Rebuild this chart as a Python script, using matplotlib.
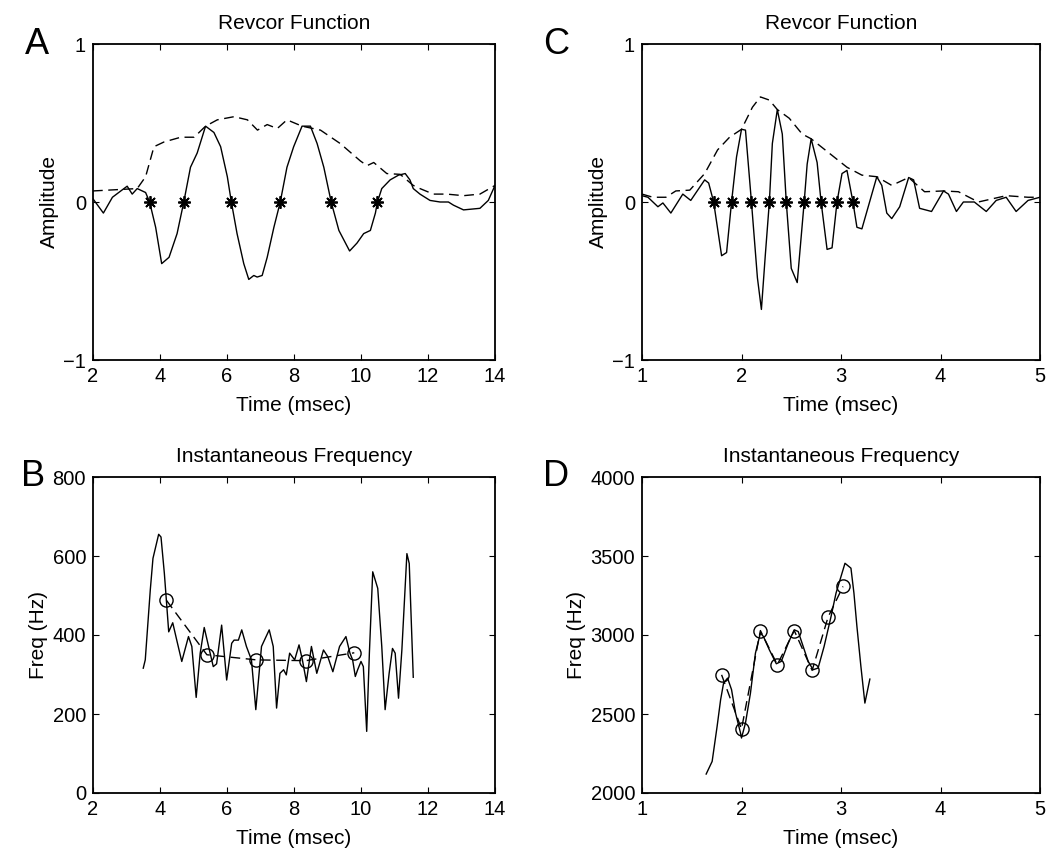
import numpy as np
import matplotlib
matplotlib.use('Agg')
import matplotlib.pyplot as plt

plt.rcParams['font.family'] = ['Liberation Sans', 'DejaVu Sans']

# painel A - revcor (ms, amplitude)
a_t = [2.0, 2.31, 2.58, 2.83, 3.02, 3.17, 3.32, 3.57, 3.69, 3.87, 4.05, 4.27, 4.51, 4.71, 4.91,
       5.11, 5.36, 5.61, 5.81, 6.01, 6.13, 6.30, 6.50, 6.65, 6.80, 6.90, 7.05, 7.20, 7.40, 7.59,
       7.79, 7.99, 8.24, 8.49, 8.69, 8.89, 9.11, 9.34, 9.66, 9.88, 10.08, 10.28, 10.43, 10.49,
       10.62, 10.87, 11.12, 11.32, 11.46, 11.56, 11.76, 12.06, 12.36, 12.61, 12.76, 13.06, 13.55,
       13.80, 14.0]
a_amp = [0.02, -0.07, 0.03, 0.07, 0.10, 0.05, 0.085, 0.06, 0.0, -0.16, -0.39, -0.35, -0.20, 0.0, 0.22,
         0.31, 0.48, 0.44, 0.35, 0.16, 0.0, -0.20, -0.39, -0.49, -0.465, -0.475, -0.465, -0.35, -0.16, 0.0,
         0.22, 0.35, 0.48, 0.48, 0.37, 0.22, 0.0, -0.18, -0.31, -0.26, -0.20, -0.18, -0.07, 0.0,
         0.085, 0.14, 0.17, 0.18, 0.14, 0.085, 0.05, 0.01, 0.0, 0.0, -0.02, -0.05, -0.04,
         0.01, 0.105]
a_env_t = [2.0, 3.32, 3.57, 3.82, 4.12, 4.62, 5.02, 5.36, 5.71, 6.21, 6.61, 6.91, 7.20, 7.50, 7.79,
           8.24, 8.79, 9.38, 9.98, 10.18, 10.38, 10.77, 11.17, 11.56, 11.76, 12.16, 12.56, 13.06,
           13.55, 14.0]
a_env = [0.07, 0.085, 0.16, 0.35, 0.38, 0.41, 0.41, 0.48, 0.52, 0.54, 0.52, 0.455, 0.49, 0.465, 0.52,
         0.48, 0.455, 0.37, 0.26, 0.23, 0.25, 0.18, 0.175, 0.105, 0.085, 0.05, 0.05, 0.04,
         0.05, 0.105]
a_zeros = [3.69, 4.71, 6.13, 7.59, 9.11, 10.49]

# painel B - frequencia instantanea (ms, Hz)
b_t = [3.50, 3.56, 3.71, 3.79, 3.96, 4.03, 4.13, 4.19, 4.26, 4.38, 4.50, 4.65, 4.85, 4.95, 5.08,
       5.20, 5.32, 5.45, 5.59, 5.69, 5.84, 5.99, 6.14, 6.21, 6.34, 6.44, 6.58, 6.73, 6.86, 7.03,
       7.26, 7.38, 7.48, 7.58, 7.69, 7.77, 7.87, 8.02, 8.15, 8.25, 8.37, 8.52, 8.68, 8.88, 9.01,
       9.16, 9.36, 9.55, 9.67, 9.75, 9.83, 9.90, 10.00, 10.07, 10.17, 10.25, 10.35, 10.50, 10.62,
       10.72, 10.84, 10.94, 11.02, 11.12, 11.22, 11.37, 11.44, 11.56]
b_freq = [316, 337, 514, 594, 655, 648, 556, 488, 408, 431, 387, 333, 396, 371, 242,
          354, 419, 371, 320, 327, 425, 286, 379, 387, 387, 413, 371, 337, 211, 371,
          413, 371, 215, 303, 312, 299, 354, 337, 375, 337, 282, 371, 303, 362, 345,
          307, 371, 396, 354, 337, 295, 312, 333, 320, 156, 354, 560, 518, 371,
          211, 303, 366, 354, 240, 362, 606, 581, 293]
b_circ_t = [4.19, 5.40, 6.88, 8.35, 9.80]
b_circ_f = [488, 350, 337, 335, 355]

# painel C - revcor
c_t = [1.0, 1.06, 1.16, 1.21, 1.29, 1.41, 1.49, 1.63, 1.67, 1.72, 1.80, 1.85, 1.90, 1.95, 2.00,
       2.04, 2.10, 2.16, 2.20, 2.24, 2.28, 2.31, 2.36, 2.41, 2.45, 2.50, 2.56, 2.63, 2.66, 2.70,
       2.76, 2.80, 2.86, 2.91, 2.96, 3.01, 3.06, 3.12, 3.16, 3.21, 3.36, 3.41, 3.46, 3.51, 3.59,
       3.68, 3.73, 3.79, 3.91, 4.03, 4.08, 4.16, 4.23, 4.34, 4.46, 4.56, 4.66, 4.76, 4.88, 5.0]
c_amp = [0.04, 0.03, -0.03, -0.006, -0.07, 0.05, 0.01, 0.14, 0.12, 0.0, -0.34, -0.32, 0.0, 0.285, 0.46,
         0.455, 0.0, -0.48, -0.68, -0.33, 0.0, 0.37, 0.585, 0.43, 0.0, -0.42, -0.51, 0.0, 0.24, 0.40,
         0.25, 0.0, -0.30, -0.29, 0.0, 0.18, 0.20, 0.0, -0.16, -0.17, 0.16, 0.105, -0.07, -0.105, -0.03,
         0.155, 0.14, -0.04, -0.06, 0.07, 0.05, -0.06, 0.0, 0.0, -0.06, 0.01, 0.03, -0.06, 0.01, 0.03]
c_env_t = [1.0, 1.11, 1.24, 1.34, 1.48, 1.63, 1.76, 1.88, 2.00, 2.11, 2.19, 2.28, 2.36, 2.48, 2.61,
           2.70, 2.88, 3.06, 3.21, 3.36, 3.51, 3.68, 3.84, 4.03, 4.18, 4.38, 4.66, 4.88, 5.0]
c_env = [0.05, 0.03, 0.03, 0.07, 0.075, 0.18, 0.33, 0.41, 0.46, 0.60, 0.665, 0.645, 0.585, 0.53, 0.43,
         0.40, 0.31, 0.22, 0.17, 0.16, 0.105, 0.155, 0.065, 0.07, 0.065, 0.0, 0.04, 0.03, 0.03]
c_zeros = [1.72, 1.90, 2.10, 2.28, 2.45, 2.63, 2.80, 2.96, 3.12]

# painel D - frequencia instantanea
d_t = [1.645, 1.705, 1.755, 1.79, 1.82, 1.86, 1.90, 1.94, 1.99, 2.00, 2.04, 2.09, 2.14, 2.19, 2.22,
       2.28, 2.35, 2.40, 2.47, 2.53, 2.57, 2.62, 2.67, 2.72, 2.77, 2.83, 2.90, 2.95, 3.00, 3.04,
       3.10, 3.13, 3.16, 3.20, 3.24, 3.29]
d_freq = [2120, 2200, 2422, 2590, 2696, 2727, 2654, 2506, 2380, 2348, 2443, 2632, 2885, 3012, 2991,
          2906, 2818, 2833, 2949, 3033, 3022, 2927, 2833, 2780, 2791, 2927, 3117, 3265, 3370, 3454,
          3423, 3265, 3054, 2801, 2569, 2721]
d_circ_t = [1.80, 2.00, 2.19, 2.36, 2.53, 2.71, 2.87, 3.02]
d_circ_f = [2748, 2405, 3028, 2812, 3028, 2776, 3113, 3307]

fig = plt.figure(figsize=(10.54, 8.5), dpi=100)

W, H = 1054.0, 850.0
def eixo(x0, y0, x1, y1):
    return fig.add_axes([x0 / W, 1 - y1 / H, (x1 - x0) / W, (y1 - y0) / H])

axA = eixo(93, 44, 495, 360)
axB = eixo(93, 477, 495, 793)
axC = eixo(642, 44, 1040, 360)
axD = eixo(642, 477, 1040, 793)

dash = (0, (7, 4))
lw = 1.0
asterisco = (8, 2, 0)

axA.plot(a_t, a_amp, 'k-', lw=lw)
axA.plot(a_env_t, a_env, color='k', lw=lw, linestyle=dash)
axA.plot(a_zeros, np.zeros(len(a_zeros)), linestyle='none', marker=asterisco, ms=9, mec='k', mew=1.3)
axA.set_xlim(2, 14)
axA.set_ylim(-1, 1)
axA.set_xticks([2, 4, 6, 8, 10, 12, 14])
axA.set_yticks([-1, 0, 1])
axA.set_title('Revcor Function', fontsize=15, pad=11)
axA.set_xlabel('Time (msec)', fontsize=15, labelpad=7)
axA.set_ylabel('Amplitude', fontsize=15, labelpad=3)

axC.plot(c_t, c_amp, 'k-', lw=lw)
axC.plot(c_env_t, c_env, color='k', lw=lw, linestyle=dash)
axC.plot(c_zeros, np.zeros(len(c_zeros)), linestyle='none', marker=asterisco, ms=9, mec='k', mew=1.3)
axC.set_xlim(1, 5)
axC.set_ylim(-1, 1)
axC.set_xticks([1, 2, 3, 4, 5])
axC.set_yticks([-1, 0, 1])
axC.set_title('Revcor Function', fontsize=15, pad=11)
axC.set_xlabel('Time (msec)', fontsize=15, labelpad=7)
axC.set_ylabel('Amplitude', fontsize=15, labelpad=3)

axB.plot(b_t, b_freq, 'k-', lw=lw)
axB.plot(b_circ_t, b_circ_f, color='k', lw=lw, linestyle=dash)
axB.plot(b_circ_t, b_circ_f, linestyle='none', marker='o', ms=9.5, mfc='none', mec='k', mew=1.0)
axB.set_xlim(2, 14)
axB.set_ylim(0, 800)
axB.set_xticks([2, 4, 6, 8, 10, 12, 14])
axB.set_yticks([0, 200, 400, 600, 800])
axB.set_title('Instantaneous Frequency', fontsize=15, pad=11)
axB.set_xlabel('Time (msec)', fontsize=15, labelpad=7)
axB.set_ylabel('Freq (Hz)', fontsize=15, labelpad=3)

axD.plot(d_t, d_freq, 'k-', lw=lw)
axD.plot(d_circ_t, d_circ_f, color='k', lw=lw, linestyle=dash)
axD.plot(d_circ_t, d_circ_f, linestyle='none', marker='o', ms=9.5, mfc='none', mec='k', mew=1.0)
axD.set_xlim(1, 5)
axD.set_ylim(2000, 4000)
axD.set_xticks([1, 2, 3, 4, 5])
axD.set_yticks([2000, 2500, 3000, 3500, 4000])
axD.set_title('Instantaneous Frequency', fontsize=15, pad=11)
axD.set_xlabel('Time (msec)', fontsize=15, labelpad=7)
axD.set_ylabel('Freq (Hz)', fontsize=15, labelpad=3)

for ax in [axA, axB, axC, axD]:
    ax.tick_params(direction='in', top=True, right=True, length=4, width=0.8, labelsize=14.5)
    ax.tick_params(axis='x', pad=5)
    ax.tick_params(axis='y', pad=5)
    for s in ax.spines.values():
        s.set_linewidth(1.3)

letras = [('A', 37, 45), ('B', 33, 477), ('C', 556, 45), ('D', 556, 477)]
for txt, x, y in letras:
    fig.text(x / W, 1 - y / H, txt, fontsize=26, ha='center', va='center')

fig.savefig('out.png', dpi=100)
